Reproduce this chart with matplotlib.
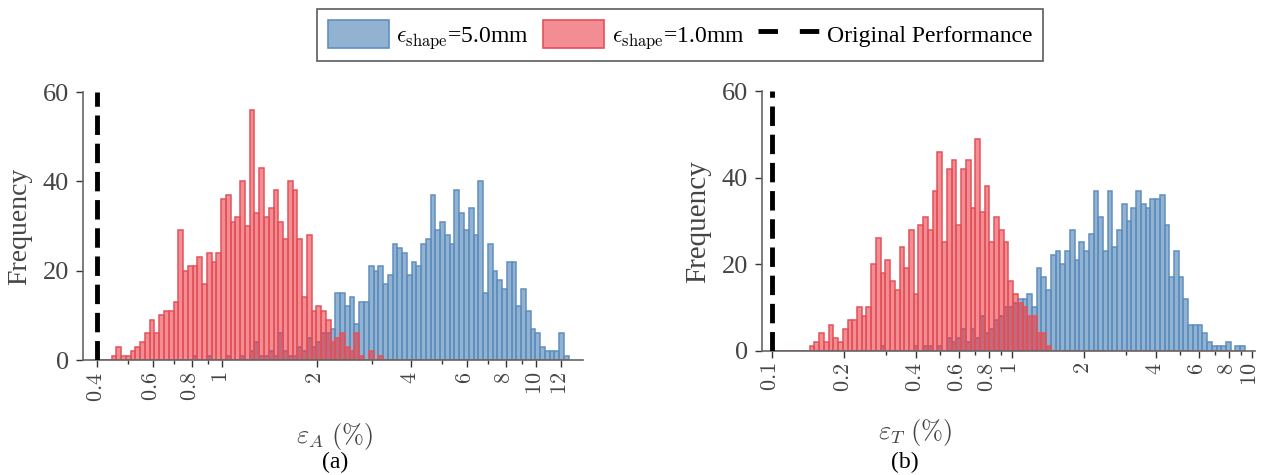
import numpy as np
import matplotlib.pyplot as plt
from matplotlib.patches import Patch
from matplotlib.lines import Line2D
from matplotlib.colors import to_rgba

plt.rcParams['font.family'] = ['Liberation Serif', 'DejaVu Serif']
plt.rcParams['mathtext.fontset'] = 'cm'

# ---- data (counts per log-spaced bin) ----
# panel (a): eps_A, 99 bins between 0.4 % and 12.7 %
a_range = (0.4, 12.7)
a_nbins = 99
a_orig = 0.4
a_red_start = 3
a_red = [1, 3, 1, 1, 2, 3, 4, 6, 9, 6,
         10, 11, 11, 13, 29, 20, 21, 21, 23, 17,
         24, 22, 24, 36, 37, 31, 32, 40, 30, 56,
         33, 43, 32, 34, 38, 31, 27, 40, 38, 27,
         14, 28, 11, 12, 11, 9, 4, 5, 6, 3,
         2, 6, 1, 0, 2, 0, 1]
a_blue_start = 20
a_blue = [1, 0, 0, 1, 0, 0, 0, 1, 0, 0,
          1, 0, 2, 4, 1, 1, 2, 1, 6, 2,
          1, 1, 3, 2, 5, 3, 4, 6, 6,
          7, 15, 15, 12, 14, 8, 13, 13, 21, 20,
          21, 17, 19, 26, 25, 24, 19, 22, 21, 26,
          27, 37, 29, 31, 28, 26, 38, 33, 29, 34,
          28, 40, 15, 26, 20, 18, 16, 22, 22, 12,
          16, 11, 7, 6, 3, 2, 2, 2, 6, 1]
a_major = [0.4, 0.6, 0.8, 1, 2, 4, 6, 8, 10, 12]
a_minor = [0.5, 0.7, 0.9, 3, 5, 7, 9]

# panel (b): eps_T, 100 bins between 0.1 % and 9.35 %
t_range = (0.1, 9.35)
t_nbins = 100
t_orig = 0.1
t_red_start = 8
t_red = [1, 2, 4, 2, 6, 3, 2, 5, 7, 7,
         10, 8, 10, 20, 26, 18, 21, 16, 14, 24,
         19, 28, 13, 29, 31, 28, 37, 46, 25, 42,
         44, 29, 42, 44, 33, 49, 32, 38, 25, 31,
         28, 25, 16, 13, 11, 10, 8, 8, 4, 4,
         1]
t_blue_start = 23
t_blue = [1, 0, 0, 0, 0, 0, 0, 1, 0, 1,
          1, 0, 1, 0, 3, 2, 3, 5, 2, 5,
          3, 8, 4, 5, 7, 8, 10, 10, 11, 12,
          12,
          13, 10, 19, 17, 14, 22, 23, 20, 23, 28,
          21, 25, 23, 27, 37, 31, 23, 37, 24, 28,
          34, 30, 33, 37, 34, 33, 35, 35, 36, 29,
          17, 23, 17, 12, 6, 6, 6, 4, 2, 1,
          1, 1, 2, 0, 1, 1]
t_major = [0.1, 0.2, 0.4, 0.6, 0.8, 1, 2, 4, 6, 8, 10]
t_minor = [0.3, 0.5, 0.7, 0.9, 3, 5, 7, 9]

# ---- style ----
blue_face = to_rgba('#4a7fb5', 0.6)
blue_edge = '#5f8fbf'
red_face = to_rgba('#e8303a', 0.55)
red_edge = '#e4525a'
grey = '#444444'


def full(start, vals, n):
    out = np.zeros(n)
    out[start:start + len(vals)] = vals
    return out


def fmt(v):
    return '$%g$' % v


def panel(ax, rng, nbins, blue, red, orig, major, minor, xlim):
    edges = np.logspace(np.log10(rng[0]), np.log10(rng[1]), nbins + 1)
    w = np.diff(edges)
    ax.bar(edges[:-1], blue, width=w, align='edge', facecolor=blue_face,
           edgecolor=blue_edge, linewidth=1.1)
    ax.bar(edges[:-1], red, width=w, align='edge', facecolor=red_face,
           edgecolor=red_edge, linewidth=1.1)
    ax.axvline(orig, color='k', lw=3.5, ls=(0, (4, 1.8)), zorder=5)
    ax.set_xscale('log')
    ax.set_xlim(*xlim)
    ax.set_ylim(0, 60)
    ax.set_yticks([0, 20, 40, 60])
    ax.set_xticks(major)
    ax.set_xticklabels([fmt(v) for v in major], rotation=90)
    ax.set_xticks(minor, minor=True)
    ax.set_xticklabels([], minor=True)
    for s in ['top', 'right']:
        ax.spines[s].set_visible(False)
    for s in ['left', 'bottom']:
        ax.spines[s].set_color('#666666')
        ax.spines[s].set_linewidth(1.2)
    ax.tick_params(axis='both', which='major', length=5, width=1, color='#333333',
                   labelcolor=grey)
    ax.tick_params(axis='x', which='major', labelsize=16)
    ax.tick_params(axis='x', which='minor', length=3, width=1, color='#333333')
    ax.tick_params(axis='y', labelsize=19, pad=5)


fig = plt.figure(figsize=(12.63, 4.75), dpi=100)
axA = fig.add_axes([0.0657, 0.2421, 0.3959, 0.5642])
axT = fig.add_axes([0.6033, 0.2617, 0.3904, 0.5467])

panel(axA, a_range, a_nbins, full(a_blue_start, a_blue, a_nbins),
      full(a_red_start, a_red, a_nbins), a_orig, a_major, a_minor, (0.36, 14.1))
panel(axT, t_range, t_nbins, full(t_blue_start, t_blue, t_nbins),
      full(t_red_start, t_red, t_nbins), t_orig, t_major, t_minor, (0.091, 10.3))

fig.text(20 / 1263, 1 - 226 / 475, 'Frequency', rotation=90, fontsize=20,
         color=grey, ha='center', va='center')
fig.text(698 / 1263, 1 - 222 / 475, 'Frequency', rotation=90, fontsize=21,
         color=grey, ha='center', va='center')
fig.text(335 / 1263, 1 - 437 / 475, r'$\varepsilon_A\ (\%)$', fontsize=19,
         color=grey, ha='center', va='center')
fig.text(915 / 1263, 1 - 432 / 475, r'$\varepsilon_T\ (\%)$', fontsize=19,
         color=grey, ha='center', va='center')
fig.text(335 / 1263, 1 - 462 / 475, '(a)', fontsize=17, ha='center', va='center')
fig.text(905 / 1263, 1 - 462 / 475, '(b)', fontsize=17, ha='center', va='center')

handles = [Patch(facecolor=blue_face, edgecolor=blue_edge, linewidth=1.2),
           Patch(facecolor=red_face, edgecolor=red_edge, linewidth=1.2),
           Line2D([], [], color='k', lw=3.5, ls=(0, (4, 4.5)))]
labels = [r'$\epsilon_{\rm shape}$=5.0mm', r'$\epsilon_{\rm shape}$=1.0mm',
          'Original Performance']
leg = fig.legend(handles, labels, loc='upper left',
                 bbox_to_anchor=(317 / 1263, 1 - 9 / 475),
                 ncol=3, fontsize=17, frameon=True, fancybox=False,
                 edgecolor='#333333', handlelength=2.6, handleheight=1.5,
                 handletextpad=0.3, columnspacing=0.6, borderpad=0.45,
                 borderaxespad=0)
leg.get_frame().set_linewidth(1.2)

fig.savefig('out.png', dpi=100)
